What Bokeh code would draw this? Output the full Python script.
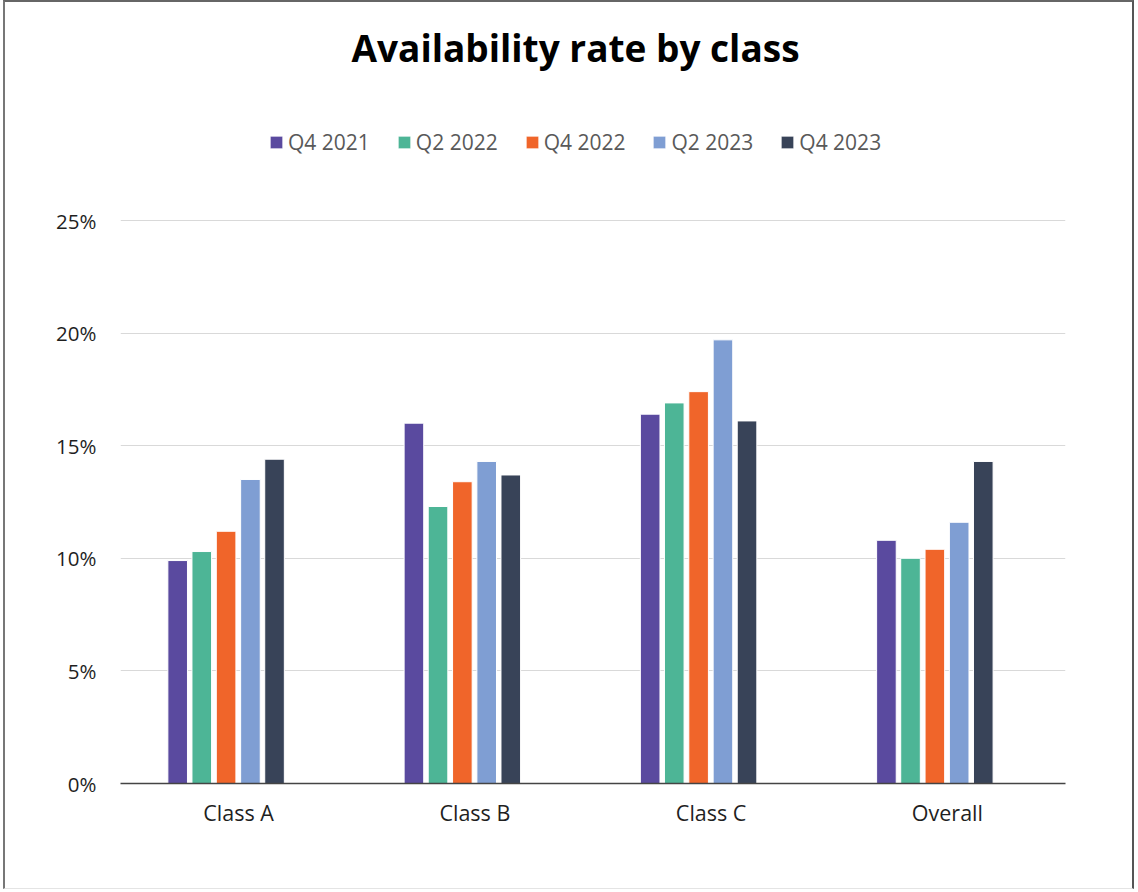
from bokeh.plotting import figure
from bokeh.models import (ColumnDataSource, FactorRange, Range1d, FixedTicker,
                          Label, Legend, LegendItem)
from bokeh.transform import dodge
from bokeh.embed import file_html
from bokeh.resources import INLINE

# Availability rate (%) by class, per quarter
classes = ["Class A", "Class B", "Class C", "Overall"]
periods = ["Q4 2021", "Q2 2022", "Q4 2022", "Q2 2023", "Q4 2023"]
q4_2021 = [9.9, 16.0, 16.4, 10.8]
q2_2022 = [10.3, 12.3, 16.9, 10.0]
q4_2022 = [11.2, 13.4, 17.4, 10.4]
q2_2023 = [13.5, 14.3, 19.7, 11.6]
q4_2023 = [14.4, 13.7, 16.1, 14.3]
y_ticks = [0, 5, 10, 15, 20, 25]
y_tick_labels = ["0%", "5%", "10%", "15%", "20%", "25%"]

series = [q4_2021, q2_2022, q4_2022, q2_2023, q4_2023]
colors = ["#5A4A9F", "#4DB596", "#F0652A", "#7F9ED3", "#384358"]
offsets = [-0.258, -0.156, -0.053, 0.050, 0.152]
bar_width = 0.083

source = ColumnDataSource(dict(cls=classes, **{p: v for p, v in zip(periods, series)}))

FONT = "Open Sans"
W, H = 1131, 889
frame_h = 781
y_top = 25 * frame_h / 563.0

p = figure(width=W, height=H, x_range=FactorRange(*classes),
           y_range=Range1d(0, y_top), title=None, toolbar_location=None,
           output_backend="svg", min_border_left=115, min_border_right=71,
           min_border_top=0, min_border_bottom=108,
           styles={"margin-left": "3px", "border-left": "2px solid #777777",
                   "border-right": "2px solid #555555",
                   "border-top": "2px solid #666666",
                   "border-bottom": "1px solid #e4e4e4"})
p.outline_line_color = None
p.background_fill_color = "white"
p.border_fill_color = "white"

renderers = []
for name, color, off in zip(periods, colors, offsets):
    r = p.vbar(x=dodge("cls", off, range=p.x_range), top=name, width=bar_width,
               source=source, fill_color=color, line_color="white", line_width=1)
    renderers.append(r)

# axes
p.yaxis.ticker = FixedTicker(ticks=y_ticks)
p.yaxis.major_label_overrides = {t: s for t, s in zip(y_ticks, y_tick_labels)}
p.yaxis.axis_line_color = None
p.yaxis.major_tick_line_color = None
p.yaxis.minor_tick_line_color = None
p.yaxis.major_label_standoff = 18
p.yaxis.major_label_text_font = FONT
p.yaxis.major_label_text_font_size = "20.5px"
p.yaxis.major_label_text_color = "#1f1f1f"

p.xaxis.axis_line_color = "#444444"
p.xaxis.axis_line_width = 1.5
p.xaxis.major_tick_line_color = None
p.xaxis.minor_tick_line_color = None
p.xaxis.major_label_standoff = 8
p.xaxis.major_label_text_font = FONT
p.xaxis.major_label_text_font_size = "21.5px"
p.xaxis.major_label_text_color = "#1f1f1f"

p.xgrid.grid_line_color = None
p.ygrid.ticker = FixedTicker(ticks=y_ticks)
p.ygrid.grid_line_color = "#d9d9d9"
p.ygrid.grid_line_width = 1

# title
p.add_layout(Label(x=455, y=736, x_units="screen", y_units="screen",
                   text="Availability rate by class", text_align="center",
                   text_baseline="alphabetic", text_font=FONT,
                   text_font_size="37px", text_font_style="bold",
                   text_color="#000000"))

# legend
legend = Legend(items=[LegendItem(label=n, renderers=[r]) for n, r in zip(periods, renderers)],
                orientation="horizontal", location=(148, 627),
                glyph_width=16, glyph_height=16, label_standoff=4, spacing=26,
                padding=0, margin=0, border_line_color=None,
                background_fill_alpha=0, label_text_font=FONT,
                label_text_font_size="21px", label_text_color="#595959")
p.add_layout(legend, "center")

open("out.html", "w").write(file_html(p, INLINE))
